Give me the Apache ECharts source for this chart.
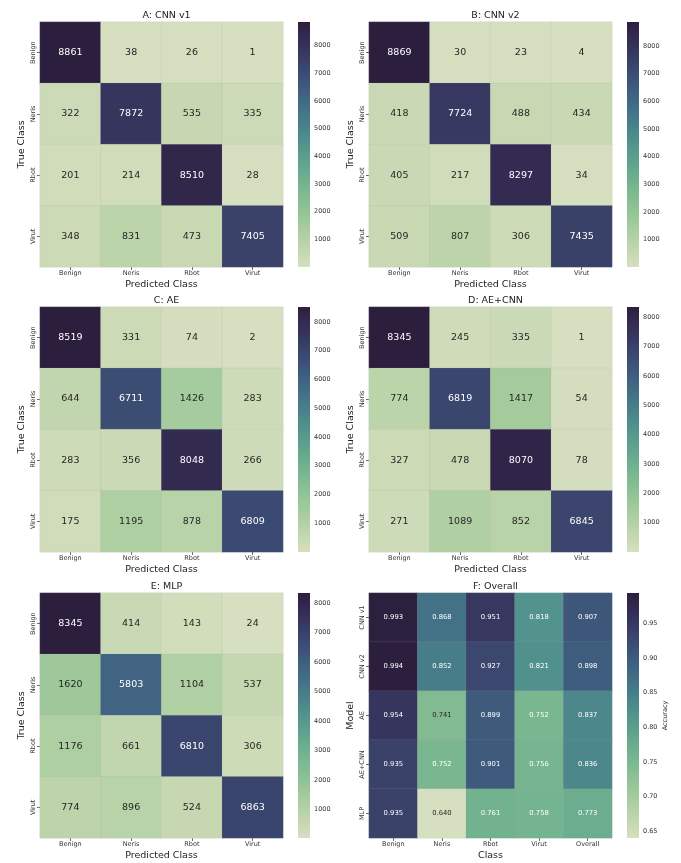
<!DOCTYPE html>
<html>
<head>
<meta charset="utf-8">
<script src="https://cdn.jsdelivr.net/npm/echarts@6/dist/echarts.min.js"></script>
<style>
  html, body { margin: 0; padding: 0; background: #fff; }
  #chart { width: 681px; height: 863px; }
</style>
</head>
<body>
<div id="chart"></div>
<script>
// ---- data ----
const classes = ['Benign', 'Neris', 'Rbot', 'Virut'];
const cnnV1 = [[8861, 38, 26, 1], [322, 7872, 535, 335], [201, 214, 8510, 28], [348, 831, 473, 7405]];
const cnnV2 = [[8869, 30, 23, 4], [418, 7724, 488, 434], [405, 217, 8297, 34], [509, 807, 306, 7435]];
const ae = [[8519, 331, 74, 2], [644, 6711, 1426, 283], [283, 356, 8048, 266], [175, 1195, 878, 6809]];
const aeCnn = [[8345, 245, 335, 1], [774, 6819, 1417, 54], [327, 478, 8070, 78], [271, 1089, 852, 6845]];
const mlp = [[8345, 414, 143, 24], [1620, 5803, 1104, 537], [1176, 661, 6810, 306], [774, 896, 524, 6863]];
const overallModels = ['CNN v1', 'CNN v2', 'AE', 'AE+CNN', 'MLP'];
const overallClasses = ['Benign', 'Neris', 'Rbot', 'Virut', 'Overall'];
const overallAcc = [
  [0.993, 0.868, 0.951, 0.818, 0.907],
  [0.994, 0.852, 0.927, 0.821, 0.898],
  [0.954, 0.741, 0.899, 0.752, 0.837],
  [0.935, 0.752, 0.901, 0.756, 0.836],
  [0.935, 0.640, 0.761, 0.758, 0.773]
];
const countTicks = [1000, 2000, 3000, 4000, 5000, 6000, 7000, 8000];
const accTicks = [0.65, 0.70, 0.75, 0.80, 0.85, 0.90, 0.95];

// ---- colour map: cubehelix (start=.5, rot=-.75), light -> dark ----
function cubehelix(x) {
  const start = 0.5, rot = -0.75, hue = 0.8;
  const a = hue * x * (1 - x) / 2;
  const phi = 2 * Math.PI * (start / 3 + rot * x);
  const f = (p0, p1) => Math.min(1, Math.max(0, x + a * (p0 * Math.cos(phi) + p1 * Math.sin(phi))));
  return [f(-0.14861, 1.78277), f(-0.29227, -0.90649), f(1.97294, 0)];
}
function rampRGB(t) { return cubehelix(0.85 + (0.15 - 0.85) * t); }
function toHex(rgb) {
  return '#' + rgb.map(c => Math.round(c * 255).toString(16).padStart(2, '0')).join('');
}
const rampStops = [];
for (let i = 0; i <= 32; i++) rampStops.push(toHex(rampRGB(i / 32)));

function textColorFor(t) {
  const lin = rampRGB(t).map(c => c <= 0.03928 ? c / 12.92 : Math.pow((c + 0.055) / 1.055, 2.4));
  const lum = 0.2126 * lin[0] + 0.7152 * lin[1] + 0.0722 * lin[2];
  return lum > 0.408 ? '#262626' : '#ffffff';
}

// ---- panels ----
const FONT = 'DejaVu Sans';
const panels = [
  { title: 'A: CNN v1', m: cnnV1, xs: classes, ys: classes, xName: 'Predicted Class', yName: 'True Class', ticks: countTicks, left: 40, top: 22 },
  { title: 'B: CNN v2', m: cnnV2, xs: classes, ys: classes, xName: 'Predicted Class', yName: 'True Class', ticks: countTicks, left: 369, top: 22 },
  { title: 'C: AE', m: ae, xs: classes, ys: classes, xName: 'Predicted Class', yName: 'True Class', ticks: countTicks, left: 40, top: 307 },
  { title: 'D: AE+CNN', m: aeCnn, xs: classes, ys: classes, xName: 'Predicted Class', yName: 'True Class', ticks: countTicks, left: 369, top: 307 },
  { title: 'E: MLP', m: mlp, xs: classes, ys: classes, xName: 'Predicted Class', yName: 'True Class', ticks: countTicks, left: 40, top: 593 },
  { title: 'F: Overall', m: overallAcc, xs: overallClasses, ys: overallModels, xName: 'Class', yName: 'Model', ticks: accTicks, left: 369, top: 593, acc: true }
];
const W = 243, H = 245;

const option = {
  animation: false,
  backgroundColor: '#ffffff',
  textStyle: { fontFamily: FONT },
  title: [], grid: [], xAxis: [], yAxis: [], visualMap: [], series: []
};

panels.forEach((p, i) => {
  const flat = p.m.flat();
  const vmin = Math.min(...flat), vmax = Math.max(...flat);
  const hi = i * 2, ci = i * 2 + 1;

  option.title.push({
    text: p.title, left: p.left + W / 2, top: p.top - 16, textAlign: 'center',
    textStyle: { fontSize: 9.5, fontWeight: 'normal', color: '#222', fontFamily: FONT }
  });

  // heatmap grid
  option.grid.push({ left: p.left, top: p.top, width: W, height: H });
  option.xAxis.push({
    type: 'category', gridIndex: hi, data: p.xs,
    name: p.xName, nameLocation: 'middle', nameGap: 13,
    nameTextStyle: { fontSize: 9.5, color: '#222', fontFamily: FONT, verticalAlign: 'top' },
    axisLine: { show: false },
    axisTick: { show: true, alignWithLabel: true, length: 3, lineStyle: { color: '#444', width: 0.8 } },
    axisLabel: { fontSize: 6.5, color: '#333', margin: 3, fontFamily: FONT },
    splitLine: { show: false }
  });
  option.yAxis.push({
    type: 'category', gridIndex: hi, data: p.ys, inverse: true,
    name: p.yName, nameLocation: 'middle', nameGap: 13, nameRotate: 90,
    nameTextStyle: { fontSize: 9.5, color: '#222', fontFamily: FONT, verticalAlign: 'bottom' },
    axisLine: { show: false },
    axisTick: { show: true, alignWithLabel: true, length: 3, lineStyle: { color: '#444', width: 0.8 } },
    axisLabel: { fontSize: 6.5, color: '#333', margin: 3, rotate: 90, fontFamily: FONT },
    splitLine: { show: false }
  });
  const data = [];
  p.m.forEach((row, r) => row.forEach((v, c) => {
    data.push({ value: [c, r, v], label: { color: textColorFor((v - vmin) / (vmax - vmin)) } });
  }));
  option.visualMap.push({
    type: 'continuous', show: false, seriesIndex: option.series.length, dimension: 2,
    min: vmin, max: vmax, inRange: { color: rampStops }
  });
  option.series.push({
    type: 'heatmap', xAxisIndex: hi, yAxisIndex: hi, data: data,
    itemStyle: { borderColor: 'rgba(170,170,170,0.3)', borderWidth: 0.5 },
    emphasis: { disabled: true },
    label: {
      show: true, fontFamily: FONT, fontSize: p.acc ? 6.8 : 9.5,
      formatter: prm => p.acc ? prm.value[2].toFixed(3) : String(prm.value[2])
    }
  });

  // colour bar
  option.grid.push({ left: p.left + W + 15, top: p.top, width: 12, height: H });
  option.xAxis.push({ type: 'value', gridIndex: ci, min: 0, max: 1, show: false });
  option.yAxis.push({
    type: 'value', gridIndex: ci, min: vmin, max: vmax, position: 'right',
    name: p.acc ? 'Accuracy' : '', nameLocation: 'middle', nameGap: 23, nameRotate: 90,
    nameTextStyle: { fontSize: 6.5, color: '#333', fontFamily: FONT },
    axisLine: { show: false },
    splitLine: { show: false },
    axisTick: { show: true, length: 3, customValues: p.ticks, lineStyle: { color: '#444', width: 0.8 } },
    axisLabel: {
      show: true, customValues: p.ticks, fontSize: 6.5, color: '#333', margin: 4, fontFamily: FONT,
      formatter: v => p.acc ? Number(v).toFixed(2) : String(v)
    }
  });
  const stops = rampStops.map((col, k) => ({ offset: k / (rampStops.length - 1), color: col }));
  option.series.push({
    type: 'custom', xAxisIndex: ci, yAxisIndex: ci, silent: true,
    data: [[vmin, vmax]],
    renderItem: (params, api) => {
      const a = api.coord([0, api.value(1)]);
      const b = api.coord([1, api.value(0)]);
      return {
        type: 'rect',
        shape: { x: a[0], y: a[1], width: b[0] - a[0], height: b[1] - a[1] },
        style: { fill: { type: 'linear', x: 0, y: 1, x2: 0, y2: 0, colorStops: stops } }
      };
    }
  });
});

const chart = echarts.init(document.getElementById('chart'), null, { renderer: 'canvas' });
chart.setOption(option);
</script>
</body>
</html>
